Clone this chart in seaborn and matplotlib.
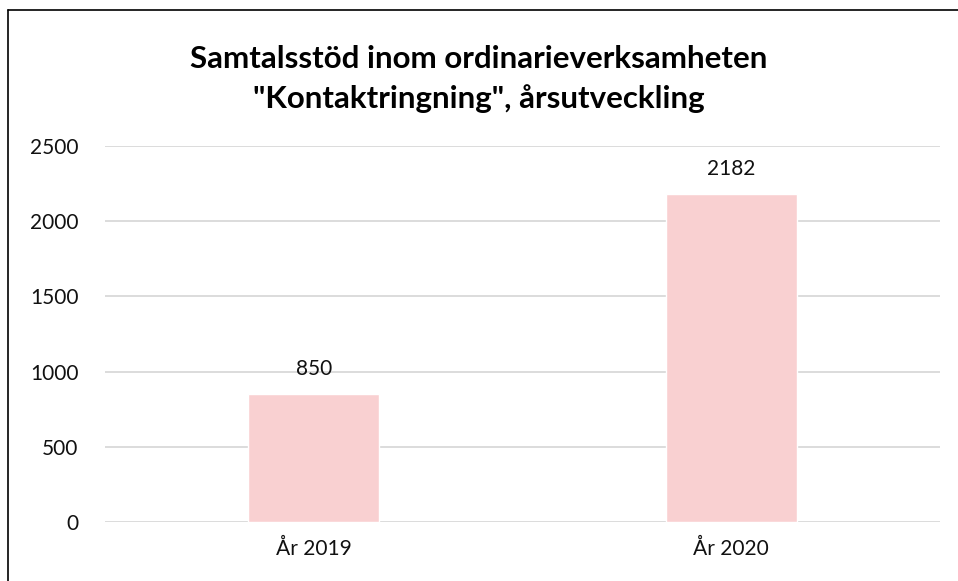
import matplotlib
matplotlib.use('Agg')
import matplotlib.pyplot as plt
from matplotlib.lines import Line2D
import pandas as pd
import seaborn as sns

# data
years = ['År 2019', 'År 2020']
calls = [850, 2182]
yticks = [0, 500, 1000, 1500, 2000, 2500]
title = 'Samtalsstöd inom ordinarieverksamheten\n"Kontaktringning", årsutveckling'

sns.set_theme(style='white')
plt.rcParams['font.family'] = ['Lato', 'DejaVu Sans']

df = pd.DataFrame({'year': years, 'calls': calls})

fig = plt.figure(figsize=(9.58, 5.81), dpi=100)
ax = fig.add_axes([0.1096, 0.1016, 0.8716, 0.6471])

sns.barplot(data=df, x='year', y='calls', color='#F9D0D1', width=0.314,
            saturation=1, ax=ax, zorder=3)

ax.set_ylim(0, 2500)
ax.set_yticks(yticks)
ax.set_yticklabels([str(t) for t in yticks])
ax.yaxis.grid(True, color='#d9d9d9', linewidth=1.3, zorder=0)
ax.set_axisbelow(True)
ax.set_xlabel('')
ax.set_ylabel('')
for s in ax.spines.values():
    s.set_visible(False)
ax.tick_params(axis='y', length=0, pad=19, labelsize=15, labelcolor='#111111')
ax.tick_params(axis='x', length=0, pad=12, labelsize=15, labelcolor='#111111')

for i, v in enumerate(calls):
    ax.annotate(str(v), (i, v), xytext=(0, 11), textcoords='offset points',
                ha='center', va='bottom', fontsize=15, color='#111111')

fig.text(0.5, 0.864, title, ha='center', va='center', fontsize=22.5,
         fontweight='bold', linespacing=1.5, color='black')

# frame of the chart box, only left and top are in view
fig.add_artist(Line2D([8 / 958, 8 / 958], [0, 1 - 10 / 581], color='black',
                      linewidth=1.2, transform=fig.transFigure))
fig.add_artist(Line2D([8 / 958, 1], [1 - 10 / 581, 1 - 10 / 581], color='black',
                      linewidth=1.2, transform=fig.transFigure))

fig.savefig('out.png', dpi=100, facecolor='white')
